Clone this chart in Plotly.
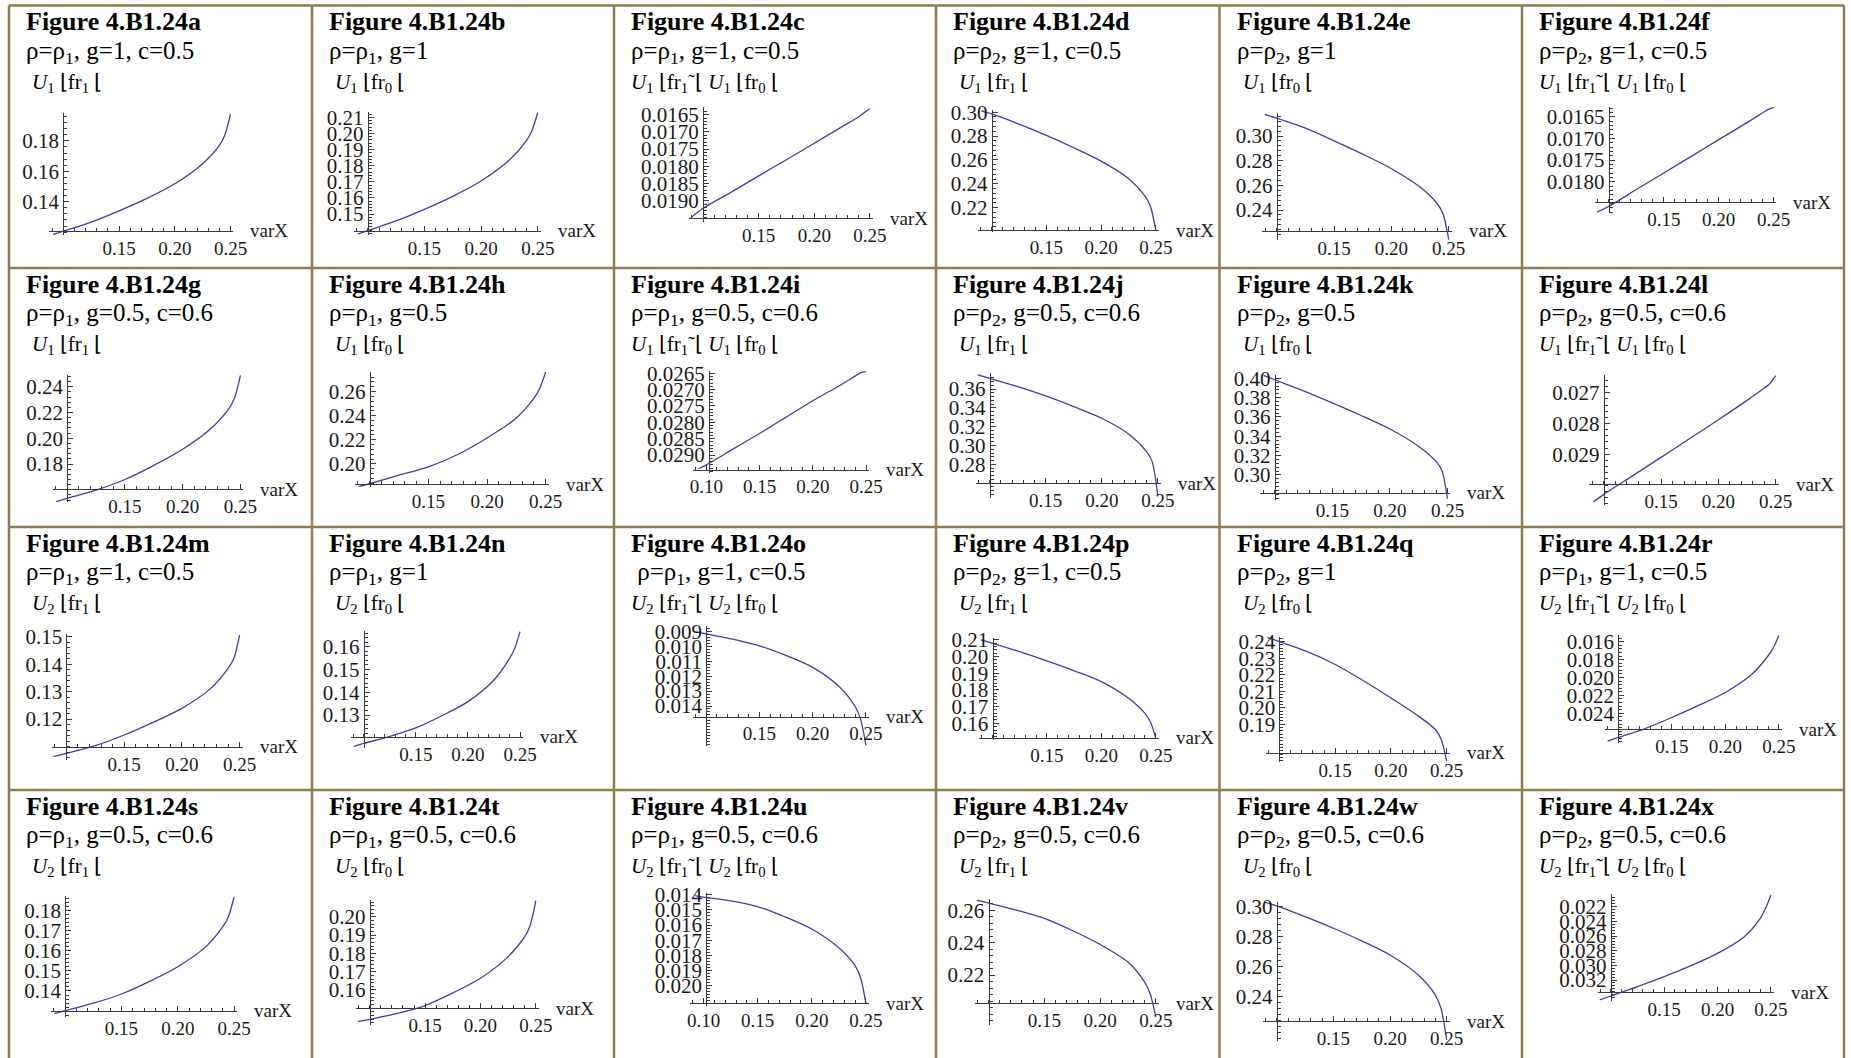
import numpy as np
import plotly.graph_objects as go

FIG_W, FIG_H = 1851, 1058

LETTERS = list("abcdefghijklmnopqrstuvwx")

# ---------------------------------------------------------------- data
# abscissae shared by every curve, after each curve's own first point
X_GRID = [0.10, 0.125, 0.15, 0.175, 0.20, 0.225, 0.24, 0.245, 0.25]
X_START = [0.0910, 0.0911, 0.0890, 0.0905, 0.0896, 0.0892,
           0.0905, 0.0905, 0.0926, 0.0894, 0.0904, 0.0907,
           0.0887, 0.0905, 0.0896, 0.0892, 0.0893, 0.0900,
           0.0905, 0.0892, 0.0923, 0.0895, 0.0896, 0.0896]

vals_a = [0.1185, 0.1206, 0.1266, 0.1340, 0.1422, 0.1518, 0.1650, 0.1770, 0.1840, 0.1975]
vals_b = [0.1376, 0.1397, 0.1457, 0.1529, 0.1610, 0.1705, 0.1835, 0.1955, 0.2020, 0.2130]
vals_c = [0.01950, 0.01922, 0.01876, 0.01828, 0.01781, 0.01733, 0.01685, 0.01656, 0.01644, 0.01632]
vals_d = [0.3010, 0.2985, 0.2900, 0.2805, 0.2702, 0.2590, 0.2445, 0.2300, 0.2215, 0.2015]
vals_e = [0.3175, 0.3144, 0.3063, 0.2961, 0.2853, 0.2735, 0.2586, 0.2451, 0.2370, 0.2160]
vals_f = [0.01870, 0.01857, 0.01818, 0.01780, 0.017415, 0.01703, 0.01665, 0.01641, 0.01633, 0.01629]
vals_g = [0.1508, 0.1534, 0.1598, 0.1680, 0.1790, 0.1915, 0.2080, 0.2230, 0.2315, 0.2488]
vals_h = [0.1810, 0.1835, 0.1906, 0.1975, 0.2078, 0.2215, 0.2380, 0.2545, 0.2628, 0.2762]
vals_i = [0.02942, 0.02930, 0.02882, 0.02834, 0.02784, 0.02734, 0.02688, 0.02658, 0.02648, 0.02645]
vals_j = [0.3750, 0.3714, 0.3625, 0.3526, 0.3412, 0.3289, 0.3112, 0.2934, 0.2828, 0.2460]
vals_k = [0.4030, 0.3985, 0.3870, 0.3745, 0.3615, 0.3475, 0.3295, 0.3140, 0.3050, 0.2755]
vals_l = [0.03055, 0.03030, 0.02970, 0.02910, 0.02849, 0.02788, 0.02725, 0.02685, 0.02670, 0.02645]
vals_m = [0.1063, 0.1075, 0.1103, 0.1142, 0.1188, 0.1239, 0.1312, 0.1385, 0.1421, 0.1506]
vals_n = [0.1163, 0.1176, 0.1207, 0.1244, 0.1297, 0.1359, 0.1454, 0.1549, 0.1593, 0.1666]
vals_o = [0.00900, 0.00915, 0.00950, 0.00995, 0.01060, 0.01140, 0.01270, 0.01405, 0.01490, 0.01665]
vals_p = [0.2100, 0.2080, 0.2030, 0.1974, 0.1915, 0.1850, 0.1750, 0.1660, 0.1610, 0.1512]
vals_q = [0.2425, 0.2400, 0.2340, 0.2262, 0.2165, 0.2059, 0.1948, 0.1867, 0.1810, 0.1675]
vals_r = [0.02710, 0.02670, 0.02570, 0.02447, 0.02312, 0.02168, 0.01962, 0.01757, 0.01665, 0.01530]
vals_s = [0.1287, 0.1302, 0.1339, 0.1385, 0.1448, 0.1521, 0.1621, 0.1720, 0.1770, 0.1868]
vals_t = [0.1428, 0.1440, 0.1472, 0.1515, 0.1584, 0.1664, 0.1782, 0.1891, 0.1955, 0.2087]
vals_u = [0.01405, 0.01415, 0.01440, 0.01478, 0.01545, 0.01626, 0.01750, 0.01868, 0.01946, 0.02115]
vals_v = [0.2660, 0.2644, 0.2600, 0.2549, 0.2475, 0.2389, 0.2280, 0.2156, 0.2083, 0.1940]
vals_w = [0.3030, 0.3005, 0.2933, 0.2856, 0.2772, 0.2678, 0.2544, 0.2411, 0.2322, 0.2112]
vals_x = [0.03470, 0.03418, 0.03291, 0.03155, 0.03004, 0.02836, 0.02609, 0.02359, 0.02222, 0.02040]

# tick labels of the vertical axes
yt_a = ["0.14", "0.16", "0.18"]
yt_b = ["0.15", "0.16", "0.17", "0.18", "0.19", "0.20", "0.21"]
yt_c = ["0.0165", "0.0170", "0.0175", "0.0180", "0.0185", "0.0190"]
yt_d = ["0.22", "0.24", "0.26", "0.28", "0.30"]
yt_e = ["0.24", "0.26", "0.28", "0.30"]
yt_f = ["0.0165", "0.0170", "0.0175", "0.0180"]
yt_g = ["0.18", "0.20", "0.22", "0.24"]
yt_h = ["0.20", "0.22", "0.24", "0.26"]
yt_i = ["0.0265", "0.0270", "0.0275", "0.0280", "0.0285", "0.0290"]
yt_j = ["0.28", "0.30", "0.32", "0.34", "0.36"]
yt_k = ["0.30", "0.32", "0.34", "0.36", "0.38", "0.40"]
yt_l = ["0.027", "0.028", "0.029"]
yt_m = ["0.12", "0.13", "0.14", "0.15"]
yt_n = ["0.13", "0.14", "0.15", "0.16"]
yt_o = ["0.009", "0.010", "0.011", "0.012", "0.013", "0.014"]
yt_p = ["0.16", "0.17", "0.18", "0.19", "0.20", "0.21"]
yt_q = ["0.19", "0.20", "0.21", "0.22", "0.23", "0.24"]
yt_r = ["0.016", "0.018", "0.020", "0.022", "0.024"]
yt_s = ["0.14", "0.15", "0.16", "0.17", "0.18"]
yt_t = ["0.16", "0.17", "0.18", "0.19", "0.20"]
yt_u = ["0.014", "0.015", "0.016", "0.017", "0.018", "0.019", "0.020"]
yt_v = ["0.22", "0.24", "0.26"]
yt_w = ["0.24", "0.26", "0.28", "0.30"]
yt_x = ["0.022", "0.024", "0.026", "0.028", "0.030", "0.032"]

XT_NARROW = ["0.15", "0.20", "0.25"]
XT_WIDE = ["0.10", "0.15", "0.20", "0.25"]

SUBTITLES = [
    "ρ=ρ<sub>1</sub>, g=1, c=0.5", "ρ=ρ<sub>1</sub>, g=1", "ρ=ρ<sub>1</sub>, g=1, c=0.5",
    "ρ=ρ<sub>2</sub>, g=1, c=0.5", "ρ=ρ<sub>2</sub>, g=1", "ρ=ρ<sub>2</sub>, g=1, c=0.5",
    "ρ=ρ<sub>1</sub>, g=0.5, c=0.6", "ρ=ρ<sub>1</sub>, g=0.5", "ρ=ρ<sub>1</sub>, g=0.5, c=0.6",
    "ρ=ρ<sub>2</sub>, g=0.5, c=0.6", "ρ=ρ<sub>2</sub>, g=0.5", "ρ=ρ<sub>2</sub>, g=0.5, c=0.6",
    "ρ=ρ<sub>1</sub>, g=1, c=0.5", "ρ=ρ<sub>1</sub>, g=1", " ρ=ρ<sub>1</sub>, g=1, c=0.5",
    "ρ=ρ<sub>2</sub>, g=1, c=0.5", "ρ=ρ<sub>2</sub>, g=1", "ρ=ρ<sub>1</sub>, g=1, c=0.5",
    "ρ=ρ<sub>1</sub>, g=0.5, c=0.6", "ρ=ρ<sub>1</sub>, g=0.5, c=0.6", "ρ=ρ<sub>1</sub>, g=0.5, c=0.6",
    "ρ=ρ<sub>2</sub>, g=0.5, c=0.6", "ρ=ρ<sub>2</sub>, g=0.5, c=0.6", "ρ=ρ<sub>2</sub>, g=0.5, c=0.6",
]

U1F1 = "<i>U</i><sub>1</sub> ⌊fr<sub>1</sub> ⌊"
U1F0 = "<i>U</i><sub>1</sub> ⌊fr<sub>0</sub> ⌊"
U1D = "<i>U</i><sub>1</sub> ⌊fr<sub>1</sub>˜⌊ <i>U</i><sub>1</sub> ⌊fr<sub>0</sub> ⌊"
U2F1 = "<i>U</i><sub>2</sub> ⌊fr<sub>1</sub> ⌊"
U2F0 = "<i>U</i><sub>2</sub> ⌊fr<sub>0</sub> ⌊"
U2D = "<i>U</i><sub>2</sub> ⌊fr<sub>1</sub>˜⌊ <i>U</i><sub>2</sub> ⌊fr<sub>0</sub> ⌊"
FUNC_LABELS = [U1F1, U1F0, U1D, U1F1, U1F0, U1D,
               U1F1, U1F0, U1D, U1F1, U1F0, U1D,
               U2F1, U2F0, U2D, U2F1, U2F0, U2D,
               U2F1, U2F0, U2D, U2F1, U2F0, U2D]

# ---------------------------------------------------------------- layout
# axis boxes in page pixels: left, right, top, bottom, y-axis x, x-axis y
AXIS_BOX = {
    "a": (49.4, 233.3, 113.3, 235.0, 63.3, 230.7),
    "b": (353.5, 540.6, 111.7, 235.0, 367.7, 230.7),
    "c": (689.1, 872.7, 107.4, 222.0, 703.0, 218.4),
    "d": (978.0, 1158.5, 110.0, 232.0, 991.7, 230.2),
    "e": (1262.4, 1451.6, 113.3, 240.0, 1276.7, 230.7),
    "f": (1595.1, 1776.4, 106.7, 213.3, 1608.8, 202.3),
    "g": (52.8, 243.3, 375.0, 502.3, 67.2, 489.0),
    "h": (355.0, 548.6, 371.7, 487.0, 369.7, 484.3),
    "i": (693.0, 868.7, 371.0, 473.0, 709.0, 469.5),
    "j": (975.7, 1160.6, 373.3, 497.7, 989.7, 483.3),
    "k": (1260.3, 1450.4, 375.0, 500.0, 1274.7, 492.7),
    "l": (1589.4, 1778.6, 375.0, 505.0, 1603.7, 484.3),
    "m": (52.0, 242.5, 634.3, 760.0, 66.4, 746.7),
    "n": (350.8, 522.6, 631.0, 747.7, 363.8, 736.7),
    "o": (692.9, 868.6, 625.7, 746.0, 706.2, 716.6),
    "p": (978.9, 1158.5, 638.3, 740.0, 992.5, 737.7),
    "q": (1265.5, 1449.5, 636.7, 762.3, 1279.4, 752.7),
    "r": (1604.9, 1781.5, 635.0, 743.3, 1618.3, 729.0),
    "s": (51.1, 236.9, 896.0, 1016.7, 65.2, 1010.7),
    "t": (355.9, 538.6, 900.0, 1025.0, 369.7, 1008.3),
    "u": (690.0, 868.6, 892.5, 1006.0, 706.2, 1003.4),
    "v": (974.6, 1158.6, 899.0, 1024.7, 988.5, 1003.4),
    "w": (1262.5, 1449.5, 901.7, 1040.7, 1276.7, 1021.0),
    "x": (1597.5, 1773.6, 894.0, 1000.7, 1610.8, 992.3),
}
# value at the bottom and at the top of each vertical axis
Y_RANGE = {
    "a": (0.1181, 0.1981), "b": (0.1370, 0.2135), "c": (0.01962, 0.01629),
    "d": (0.1997, 0.3018), "e": (0.2157, 0.3184), "f": (0.01873, 0.01627),
    "g": (0.1503, 0.2491), "h": (0.1808, 0.2765), "i": (0.02955, 0.02643),
    "j": (0.2445, 0.3767), "k": (0.2741, 0.4034), "l": (0.030646, 0.026426),
    "m": (0.1051, 0.1509), "n": (0.1157, 0.1669), "o": (0.01669, 0.0086),
    "p": (0.1500, 0.2110), "q": (0.1670, 0.2430), "r": (0.027352, 0.01525),
    "s": (0.1272, 0.1873), "t": (0.1409, 0.2091), "u": (0.02134, 0.01385),
    "v": (0.1894, 0.2669), "w": (0.2107, 0.3033), "x": (0.03482, 0.02027),
}
X_RANGE = (0.0875, 0.2525)

COL_EDGES = [9, 312, 614, 936, 1219.5, 1522, 1844]
ROW_EDGES = [5.5, 268, 527, 790]
GRID_COLOR = "#8C7E50"
CURVE_COLOR = "#3D3DB5"
AXIS_COLOR = "#3a3a3a"
SERIF = "Liberation Serif, Times New Roman, serif"

VALS = {c: globals()["vals_" + c] for c in LETTERS}
YTICKS = {c: globals()["yt_" + c] for c in LETTERS}


def px(x):
    return x / FIG_W


def py(y):
    return 1 - y / FIG_H


fig = go.Figure()
annotations = []
layout_axes = {}

for idx, key in enumerate(LETTERS):
    n = idx + 1
    sfx = "" if n == 1 else str(n)
    left, right, top, bottom, yaxis_x, xaxis_y = AXIS_BOX[key]
    y_bot, y_top = Y_RANGE[key]

    fig.add_trace(go.Scatter(
        x=[X_START[idx]] + X_GRID, y=VALS[key], mode="lines",
        line=dict(color=CURVE_COLOR, width=1.3, shape="spline", smoothing=0.8),
        xaxis="x" + sfx, yaxis="y" + sfx, showlegend=False, hoverinfo="skip",
    ))

    xt = XT_WIDE if key in ("i", "u") else XT_NARROW
    x_minor = [round(v, 3) for v in np.arange(0.09, 0.2501, 0.01)]
    layout_axes["xaxis" + sfx] = dict(
        domain=[px(left), px(right)], range=list(X_RANGE),
        anchor="free", position=py(xaxis_y), side="bottom",
        showgrid=False, zeroline=False, showline=True,
        linecolor=AXIS_COLOR, linewidth=1,
        ticks="inside", ticklen=5, tickwidth=1, tickcolor=AXIS_COLOR,
        tickmode="array", tickvals=[float(t) for t in xt], ticktext=xt,
        ticklabelstandoff=0,
        minor=dict(ticks="inside", ticklen=3, tickwidth=1, tickcolor=AXIS_COLOR,
                   tickmode="array", tickvals=x_minor),
        tickfont=dict(family=SERIF, size=19, color="#1a1a1a"),
        fixedrange=True,
    )

    labels = YTICKS[key]
    tv = [float(t) for t in labels]
    step = abs(tv[1] - tv[0])
    lo, hi = min(y_bot, y_top), max(y_bot, y_top)
    mstep = step / 5
    start = np.floor(lo / mstep) * mstep
    y_minor = [round(v, 6) for v in np.arange(start, hi + mstep / 2, mstep) if lo <= v <= hi]
    layout_axes["yaxis" + sfx] = dict(
        domain=[py(bottom), py(top)], range=[y_bot, y_top],
        anchor="free", position=px(yaxis_x), side="left",
        showgrid=False, zeroline=False, showline=True,
        linecolor=AXIS_COLOR, linewidth=1,
        ticks="inside", ticklen=5, tickwidth=1, tickcolor=AXIS_COLOR,
        tickmode="array", tickvals=tv, ticktext=labels,
        ticklabelstandoff=0,
        minor=dict(ticks="inside", ticklen=3, tickwidth=1, tickcolor=AXIS_COLOR,
                   tickmode="array", tickvals=y_minor),
        tickfont=dict(family=SERIF, size=21, color="#1a1a1a"),
        fixedrange=True,
    )

    # axis name at the end of the horizontal axis
    annotations.append(dict(
        x=px(right + 15), y=py(xaxis_y), xref="paper", yref="paper",
        text="varX", showarrow=False, xanchor="left", yanchor="middle",
        font=dict(family=SERIF, size=19, color="#1a1a1a"),
    ))

    # cell headings
    row, col = divmod(idx, 6)
    cell_left = COL_EDGES[col]
    cell_top = ROW_EDGES[row]
    annotations.append(dict(
        x=px(cell_left + 15), y=py(cell_top + 16), xref="paper", yref="paper",
        text="<b>Figure 4.B1.24" + key + "</b>", showarrow=False,
        xanchor="left", yanchor="middle",
        font=dict(family=SERIF, size=26, color="#000000"),
    ))
    annotations.append(dict(
        x=px(cell_left + 15), y=py(cell_top + 46.5), xref="paper", yref="paper",
        text=SUBTITLES[idx], showarrow=False, xanchor="left", yanchor="middle",
        font=dict(family=SERIF, size=25, color="#000000"),
    ))
    indent = 0 if "˜" in FUNC_LABELS[idx] else 6
    annotations.append(dict(
        x=px(cell_left + 15 + indent), y=py(cell_top + 77), xref="paper", yref="paper",
        text=FUNC_LABELS[idx], showarrow=False, xanchor="left", yanchor="middle",
        font=dict(family=SERIF, size=21, color="#000000"),
    ))

# table rules
shapes = []
for xe in COL_EDGES:
    shapes.append(dict(type="line", xref="paper", yref="paper",
                       x0=px(xe), x1=px(xe), y0=py(ROW_EDGES[0]), y1=0,
                       line=dict(color=GRID_COLOR, width=2.5)))
for ye in ROW_EDGES:
    shapes.append(dict(type="line", xref="paper", yref="paper",
                       x0=px(COL_EDGES[0]), x1=px(COL_EDGES[-1]), y0=py(ye), y1=py(ye),
                       line=dict(color=GRID_COLOR, width=2.5)))

fig.update_layout(
    width=FIG_W, height=FIG_H,
    margin=dict(l=0, r=0, t=0, b=0, autoexpand=False),
    paper_bgcolor="white", plot_bgcolor="rgba(0,0,0,0)",
    showlegend=False,
    annotations=annotations,
    shapes=shapes,
    **layout_axes,
)

fig.write_html("out.html", config=dict(displayModeBar=False, responsive=False))
